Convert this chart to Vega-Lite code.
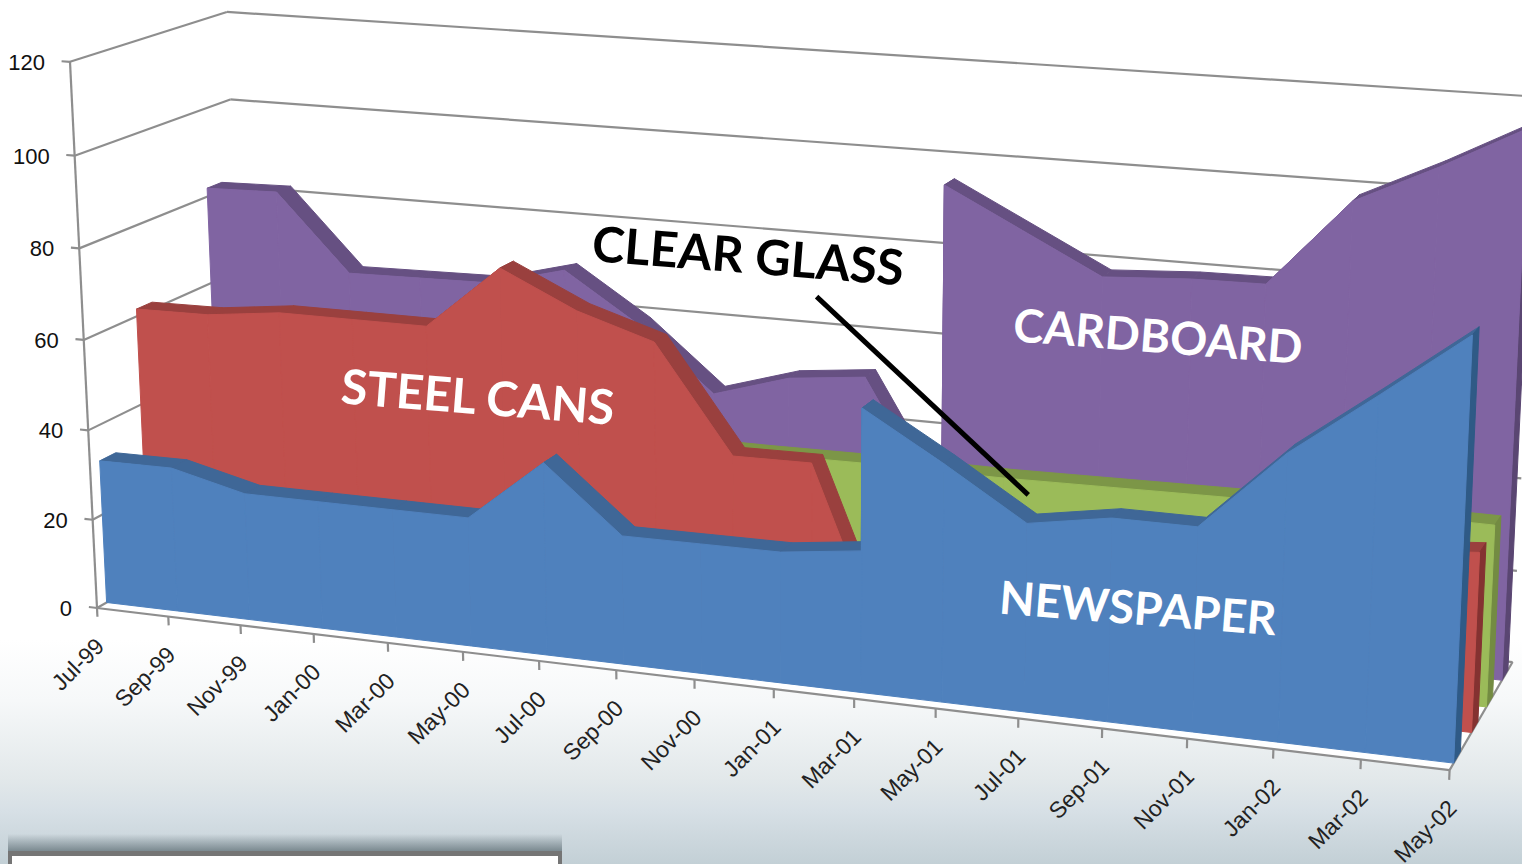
{
"$schema":"https://vega.github.io/schema/vega-lite/v6.json",
"width":1522,"height":864,"padding":0,
"autosize":{"type":"none"},
"background":"#ffffff",
"config":{"view":{"stroke":null}},
"datasets":{
"series":[
{"series":"Newspaper","month":"Jul-99","m":0,"value":32.1},{"series":"Newspaper","month":"Sep-99","m":2,"value":32.2},{"series":"Newspaper","month":"Nov-99","m":4,"value":28.2},{"series":"Newspaper","month":"Jan-00","m":6,"value":28.2},{"series":"Newspaper","month":"Mar-00","m":8,"value":28.2},{"series":"Newspaper","month":"May-00","m":10,"value":28.2},{"series":"Newspaper","month":"Jul-00","m":12,"value":41.9},{"series":"Newspaper","month":"Sep-00","m":14,"value":27.9},{"series":"Newspaper","month":"Nov-00","m":16,"value":28},{"series":"Newspaper","month":"Jan-01","m":18,"value":28.1},{"series":"Newspaper","month":"Mar-01","m":20,"value":30.2},{"series":"Newspaper","month":"Mar-01","m":20.01,"value":60.1},{"series":"Newspaper","month":"May-01","m":22,"value":50.2},{"series":"Newspaper","month":"Jul-01","m":24,"value":39.6},{"series":"Newspaper","month":"Sep-01","m":26,"value":42.5},{"series":"Newspaper","month":"Nov-01","m":28,"value":42.5},{"series":"Newspaper","month":"Jan-02","m":30,"value":59.2},{"series":"Newspaper","month":"Mar-02","m":32,"value":72.3},{"series":"Newspaper","month":"May-02","m":34,"value":85.7},
{"series":"Steel Cans","month":"Jul-99","m":0,"value":61.6},{"series":"Steel Cans","month":"Sep-99","m":2,"value":61.8},{"series":"Steel Cans","month":"Nov-99","m":4,"value":63.7},{"series":"Steel Cans","month":"Jan-00","m":6,"value":63.7},{"series":"Steel Cans","month":"Mar-00","m":8,"value":63.7},{"series":"Steel Cans","month":"May-00","m":10,"value":77.8},{"series":"Steel Cans","month":"Jul-00","m":12,"value":70},{"series":"Steel Cans","month":"Sep-00","m":14,"value":64.8},{"series":"Steel Cans","month":"Nov-00","m":16,"value":41.8},{"series":"Steel Cans","month":"Jan-01","m":18,"value":42},{"series":"Steel Cans","month":"Mar-01","m":20,"value":0},{"series":"Steel Cans","month":"Mar-01","m":20.01,"value":30},{"series":"Steel Cans","month":"May-01","m":22,"value":32},{"series":"Steel Cans","month":"Jul-01","m":24,"value":32},{"series":"Steel Cans","month":"Sep-01","m":26,"value":34},{"series":"Steel Cans","month":"Nov-01","m":28,"value":34},{"series":"Steel Cans","month":"Jan-02","m":30,"value":35},{"series":"Steel Cans","month":"Mar-02","m":32,"value":36},{"series":"Steel Cans","month":"May-02","m":34,"value":37.4},
{"series":"Clear Glass","month":"Jul-99","m":0,"value":38},{"series":"Clear Glass","month":"Nov-99","m":4,"value":38},{"series":"Clear Glass","month":"Mar-00","m":8,"value":38},{"series":"Clear Glass","month":"Jul-00","m":12,"value":38},{"series":"Clear Glass","month":"Nov-00","m":16,"value":38},{"series":"Clear Glass","month":"Feb-01","m":18.6,"value":38.2},{"series":"Clear Glass","month":"May-01","m":22.2,"value":38},{"series":"Clear Glass","month":"Nov-01","m":28.1,"value":38.7},{"series":"Clear Glass","month":"May-02","m":34,"value":38.4},
{"series":"Cardboard","month":"Jul-99","m":0,"value":81.9},{"series":"Cardboard","month":"Sep-99","m":2,"value":82.3},{"series":"Cardboard","month":"Nov-99","m":4,"value":65.1},{"series":"Cardboard","month":"Jan-00","m":6,"value":65.4},{"series":"Cardboard","month":"Mar-00","m":8,"value":65.7},{"series":"Cardboard","month":"May-00","m":10,"value":70},{"series":"Cardboard","month":"Jul-00","m":12,"value":59.2},{"series":"Cardboard","month":"Sep-00","m":14,"value":45.2},{"series":"Cardboard","month":"Nov-00","m":16,"value":50.3},{"series":"Cardboard","month":"Jan-01","m":18,"value":52.1},{"series":"Cardboard","month":"Mar-01","m":20,"value":24},{"series":"Cardboard","month":"Mar-01","m":20.01,"value":95.4},{"series":"Cardboard","month":"Jul-01","m":24,"value":78.4},{"series":"Cardboard","month":"Sep-01","m":26.2,"value":79.5},{"series":"Cardboard","month":"Nov-01","m":28,"value":79.7},{"series":"Cardboard","month":"Jan-02","m":30,"value":98.4},{"series":"Cardboard","month":"Mar-02","m":32,"value":106.7},{"series":"Cardboard","month":"May-02","m":34,"value":115.8}
],
"guides":[
{"kind":"grid","m":0,"v":0,"d":1,"m2":34,"v2":0,"d2":1},
{"kind":"grid","m":0,"v":20,"d":0,"m2":0,"v2":20,"d2":1},{"kind":"grid","m":0,"v":40,"d":0,"m2":0,"v2":40,"d2":1},{"kind":"grid","m":0,"v":60,"d":0,"m2":0,"v2":60,"d2":1},{"kind":"grid","m":0,"v":80,"d":0,"m2":0,"v2":80,"d2":1},{"kind":"grid","m":0,"v":100,"d":0,"m2":0,"v2":100,"d2":1},{"kind":"grid","m":0,"v":120,"d":0,"m2":0,"v2":120,"d2":1},
{"kind":"grid","m":0,"v":20,"d":1,"m2":34,"v2":20,"d2":1},{"kind":"grid","m":0,"v":40,"d":1,"m2":34,"v2":40,"d2":1},{"kind":"grid","m":0,"v":60,"d":1,"m2":34,"v2":60,"d2":1},{"kind":"grid","m":0,"v":80,"d":1,"m2":34,"v2":80,"d2":1},{"kind":"grid","m":0,"v":100,"d":1,"m2":34,"v2":100,"d2":1},{"kind":"grid","m":0,"v":120,"d":1,"m2":34,"v2":120,"d2":1},
{"kind":"grid","m":0,"v":0,"d":0,"m2":0,"v2":120,"d2":0},{"kind":"grid","m":0,"v":0,"d":0,"m2":34,"v2":0,"d2":0},{"kind":"grid","m":34,"v":0,"d":0,"m2":34,"v2":0,"d2":1},{"kind":"grid","m":0,"v":0,"d":0,"m2":0,"v2":0,"d2":1},
{"kind":"vtick","label":"0","m":0,"v":0,"d":0,"m2":-0.23,"v2":0,"d2":0},{"kind":"vtick","label":"20","m":0,"v":20,"d":0,"m2":-0.23,"v2":20,"d2":0},{"kind":"vtick","label":"40","m":0,"v":40,"d":0,"m2":-0.23,"v2":40,"d2":0},{"kind":"vtick","label":"60","m":0,"v":60,"d":0,"m2":-0.23,"v2":60,"d2":0},{"kind":"vtick","label":"80","m":0,"v":80,"d":0,"m2":-0.23,"v2":80,"d2":0},{"kind":"vtick","label":"100","m":0,"v":100,"d":0,"m2":-0.23,"v2":100,"d2":0},{"kind":"vtick","label":"120","m":0,"v":120,"d":0,"m2":-0.23,"v2":120,"d2":0},
{"kind":"mtick","label":"Jul-99","m":0,"v":0,"d":0,"m2":0,"v2":-2,"d2":0},{"kind":"mtick","label":"Sep-99","m":2,"v":0,"d":0,"m2":2,"v2":-2,"d2":0},{"kind":"mtick","label":"Nov-99","m":4,"v":0,"d":0,"m2":4,"v2":-2,"d2":0},{"kind":"mtick","label":"Jan-00","m":6,"v":0,"d":0,"m2":6,"v2":-2,"d2":0},{"kind":"mtick","label":"Mar-00","m":8,"v":0,"d":0,"m2":8,"v2":-2,"d2":0},{"kind":"mtick","label":"May-00","m":10,"v":0,"d":0,"m2":10,"v2":-2,"d2":0},{"kind":"mtick","label":"Jul-00","m":12,"v":0,"d":0,"m2":12,"v2":-2,"d2":0},{"kind":"mtick","label":"Sep-00","m":14,"v":0,"d":0,"m2":14,"v2":-2,"d2":0},{"kind":"mtick","label":"Nov-00","m":16,"v":0,"d":0,"m2":16,"v2":-2,"d2":0},{"kind":"mtick","label":"Jan-01","m":18,"v":0,"d":0,"m2":18,"v2":-2,"d2":0},{"kind":"mtick","label":"Mar-01","m":20,"v":0,"d":0,"m2":20,"v2":-2,"d2":0},{"kind":"mtick","label":"May-01","m":22,"v":0,"d":0,"m2":22,"v2":-2,"d2":0},{"kind":"mtick","label":"Jul-01","m":24,"v":0,"d":0,"m2":24,"v2":-2,"d2":0},{"kind":"mtick","label":"Sep-01","m":26,"v":0,"d":0,"m2":26,"v2":-2,"d2":0},{"kind":"mtick","label":"Nov-01","m":28,"v":0,"d":0,"m2":28,"v2":-2,"d2":0},{"kind":"mtick","label":"Jan-02","m":30,"v":0,"d":0,"m2":30,"v2":-2,"d2":0},{"kind":"mtick","label":"Mar-02","m":32,"v":0,"d":0,"m2":32,"v2":-2,"d2":0},{"kind":"mtick","label":"May-02","m":34,"v":0,"d":0,"m2":34,"v2":-2,"d2":0}
],
"notes":[
{"kind":"leader","m":17.46,"v":73.4,"d":0.565,"m2":22.83,"v2":34.9,"d2":0.565},
{"kind":"dark","label":"CLEAR GLASS","m":15.7,"v":80.4,"d":0.565,"m2":15.7,"v2":80.4,"d2":0.565},
{"kind":"steel","label":"STEEL CANS","m":9.33,"v":48.5,"d":0.33,"m2":9.33,"v2":48.5,"d2":0.33},
{"kind":"light","label":"CARDBOARD","m":25.4,"v":66.2,"d":0.82,"m2":25.4,"v2":66.2,"d2":0.82},
{"kind":"light","label":"NEWSPAPER","m":26.65,"v":24,"d":0.06,"m2":26.65,"v2":24,"d2":0.06}
],
"floor":[{"c":0,"m":0,"d":0},{"c":1,"m":34,"d":0},{"c":2,"m":34,"d":1},{"c":3,"m":0,"d":1}]
},
"layer":[
{"data":{"values":[{"panel":"backdrop"}]},"mark":{"type":"rect","fill":{"gradient":"linear","x1":0,"y1":0,"x2":0,"y2":1,"stops":[{"offset":0,"color":"#ffffff"},{"offset":0.27,"color":"#f6f8f9"},{"offset":0.625,"color":"#e2e8ea"},{"offset":0.76,"color":"#d7e0e6"},{"offset":0.89,"color":"#ccd7dd"},{"offset":1,"color":"#c3d0d6"}]}},"encoding":{"x":{"value":0},"x2":{"value":1522},"y":{"value":640},"y2":{"value":864}}},
{"data":{"name":"floor"},
 "transform":[{"calculate":"1-0.00323*datum.m+0.074*datum.d","as":"w"},{"calculate":"(97+35.1*datum.m+168*datum.d)/datum.w","as":"px"},{"calculate":"(608+2.28*datum.m-47.2*datum.d)/datum.w","as":"py"}],
 "mark":{"type":"line","interpolate":"linear-closed","fill":"#ffffff","stroke":null},
 "encoding":{"x":{"field":"px","type":"quantitative","scale":{"domain":[0,1522],"nice":false,"zero":false},"axis":null},"y":{"field":"py","type":"quantitative","scale":{"domain":[864,0],"nice":false,"zero":false},"axis":null},"order":{"field":"c"}}},
{"data":{"name":"guides"},
 "transform":[
  {"calculate":"1-0.00323*datum.m-0.0003*datum.v+0.074*datum.d","as":"w"},
  {"calculate":"(97+35.1*datum.m-0.246*datum.v+168*datum.d)/datum.w","as":"px"},
  {"calculate":"(608+2.28*datum.m-4.57*datum.v-47.2*datum.d)/datum.w","as":"py"},
  {"calculate":"1-0.00323*datum.m2-0.0003*datum.v2+0.074*datum.d2","as":"w2"},
  {"calculate":"(97+35.1*datum.m2-0.246*datum.v2+168*datum.d2)/datum.w2","as":"px2"},
  {"calculate":"(608+2.28*datum.m2-4.57*datum.v2-47.2*datum.d2)/datum.w2","as":"py2"}
 ],
 "encoding":{"x":{"field":"px","type":"quantitative","scale":{"domain":[0,1522],"nice":false,"zero":false},"axis":null},"y":{"field":"py","type":"quantitative","scale":{"domain":[864,0],"nice":false,"zero":false},"axis":null}},
 "layer":[
  {"mark":{"type":"rule","color":"#8e8e8e","strokeWidth":2.2,"clip":true},"encoding":{"x2":{"field":"px2"},"y2":{"field":"py2"}}},
  {"transform":[{"filter":"datum.kind==='vtick'"}],"mark":{"type":"text","align":"right","baseline":"middle","dx":-25,"dy":1,"font":"Liberation Sans","fontSize":22,"fill":"#111111"},"encoding":{"text":{"field":"label"}}},
  {"transform":[{"filter":"datum.kind==='mtick'"}],"mark":{"type":"text","align":"right","baseline":"middle","angle":315,"dx":-22,"dy":27,"font":"Liberation Sans","fontSize":23,"fill":"#222222"},"encoding":{"text":{"field":"label"}}}
 ]},
{"data":{"name":"series"},
 "transform":[
  {"window":[{"op":"lead","field":"value","as":"nv"},{"op":"lead","field":"m","as":"nm"}],"groupby":["series"],"sort":[{"field":"m","order":"ascending"}]},
  {"calculate":"[0,1,2,3]","as":"corners"},{"flatten":["corners"],"as":["c"]},
  {"calculate":"isValid(datum.nm)?['face','band']:['side']","as":"kinds"},{"flatten":["kinds"],"as":["kind"]},
  {"calculate":"datum.series==='Newspaper'?0.06:datum.series==='Steel Cans'?0.33:datum.series==='Clear Glass'?0.565:0.82","as":"d0"},
  {"calculate":"datum.kind==='side'?datum.m:((datum.c===0||datum.c===3)?datum.m:datum.nm)","as":"qm"},
  {"calculate":"datum.kind==='face'?(datum.c===0?datum.value:datum.c===1?datum.nv:0):datum.kind==='band'?((datum.c===0||datum.c===3)?datum.value:datum.nv):(datum.c<2?datum.value:0)","as":"qv"},
  {"calculate":"datum.kind==='face'?datum.d0:datum.kind==='band'?(datum.c<2?datum.d0:datum.d0+0.1):((datum.c===0||datum.c===3)?datum.d0:datum.d0+0.1)","as":"qd"},
  {"calculate":"1-0.00323*datum.qm-0.0003*datum.qv+0.074*datum.qd","as":"w"},
  {"calculate":"(97+35.1*datum.qm-0.246*datum.qv+168*datum.qd)/datum.w","as":"px"},
  {"calculate":"(608+2.28*datum.qm-4.57*datum.qv-47.2*datum.qd)/datum.w","as":"py"}
 ],
 "encoding":{"x":{"field":"px","type":"quantitative","scale":{"domain":[0,1522],"nice":false,"zero":false},"axis":null},"y":{"field":"py","type":"quantitative","scale":{"domain":[864,0],"nice":false,"zero":false},"axis":null},"detail":{"field":"m","type":"nominal"},"order":{"field":"c"}},
 "layer":[
  {"transform":[{"filter":"datum.series==='Cardboard'&&datum.kind==='band'"}],"mark":{"type":"line","interpolate":"linear-closed","fill":"#665082","stroke":"#665082","strokeWidth":1,"clip":true}},
  {"transform":[{"filter":"datum.series==='Cardboard'&&datum.kind==='side'"}],"mark":{"type":"line","interpolate":"linear-closed","fill":"#5a4672","stroke":"#5a4672","strokeWidth":1,"clip":true}},
  {"transform":[{"filter":"datum.series==='Cardboard'&&datum.kind==='face'"}],"mark":{"type":"line","interpolate":"linear-closed","fill":"#8064a2","stroke":"#8064a2","strokeWidth":1,"clip":true}},
  {"transform":[{"filter":"datum.series==='Clear Glass'&&datum.kind==='band'"}],"mark":{"type":"line","interpolate":"linear-closed","fill":"#7c9647","stroke":"#7c9647","strokeWidth":1,"clip":true}},
  {"transform":[{"filter":"datum.series==='Clear Glass'&&datum.kind==='side'"}],"mark":{"type":"line","interpolate":"linear-closed","fill":"#738b42","stroke":"#738b42","strokeWidth":1,"clip":true}},
  {"transform":[{"filter":"datum.series==='Clear Glass'&&datum.kind==='face'"}],"mark":{"type":"line","interpolate":"linear-closed","fill":"#9bbb59","stroke":"#9bbb59","strokeWidth":1,"clip":true}},
  {"transform":[{"filter":"datum.series==='Steel Cans'&&datum.kind==='band'"}],"mark":{"type":"line","interpolate":"linear-closed","fill":"#9a403e","stroke":"#9a403e","strokeWidth":1,"clip":true}},
  {"transform":[{"filter":"datum.series==='Steel Cans'&&datum.kind==='side'"}],"mark":{"type":"line","interpolate":"linear-closed","fill":"#843231","stroke":"#843231","strokeWidth":1,"clip":true}},
  {"transform":[{"filter":"datum.series==='Steel Cans'&&datum.kind==='face'"}],"mark":{"type":"line","interpolate":"linear-closed","fill":"#c0504d","stroke":"#c0504d","strokeWidth":1,"clip":true}},
  {"transform":[{"filter":"datum.series==='Newspaper'&&datum.kind==='band'"}],"mark":{"type":"line","interpolate":"linear-closed","fill":"#3f6797","stroke":"#3f6797","strokeWidth":1,"clip":true}},
  {"transform":[{"filter":"datum.series==='Newspaper'&&datum.kind==='side'"}],"mark":{"type":"line","interpolate":"linear-closed","fill":"#2f5a86","stroke":"#2f5a86","strokeWidth":1,"clip":true}},
  {"transform":[{"filter":"datum.series==='Newspaper'&&datum.kind==='face'"}],"mark":{"type":"line","interpolate":"linear-closed","fill":"#4f81bd","stroke":"#4f81bd","strokeWidth":1,"clip":true}}
 ]},
{"data":{"name":"notes"},
 "transform":[
  {"calculate":"1-0.00323*datum.m-0.0003*datum.v+0.074*datum.d","as":"w"},
  {"calculate":"(97+35.1*datum.m-0.246*datum.v+168*datum.d)/datum.w","as":"px"},
  {"calculate":"(608+2.28*datum.m-4.57*datum.v-47.2*datum.d)/datum.w","as":"py"},
  {"calculate":"1-0.00323*datum.m2-0.0003*datum.v2+0.074*datum.d2","as":"w2"},
  {"calculate":"(97+35.1*datum.m2-0.246*datum.v2+168*datum.d2)/datum.w2","as":"px2"},
  {"calculate":"(608+2.28*datum.m2-4.57*datum.v2-47.2*datum.d2)/datum.w2","as":"py2"}
 ],
 "encoding":{"x":{"field":"px","type":"quantitative","scale":{"domain":[0,1522],"nice":false,"zero":false},"axis":null},"y":{"field":"py","type":"quantitative","scale":{"domain":[864,0],"nice":false,"zero":false},"axis":null}},
 "layer":[
  {"transform":[{"filter":"datum.kind==='leader'"}],"mark":{"type":"rule","color":"#000000","strokeWidth":5},"encoding":{"x2":{"field":"px2"},"y2":{"field":"py2"}}},
  {"transform":[{"filter":"datum.kind==='dark'"}],"mark":{"type":"text","align":"center","baseline":"middle","angle":4.5,"font":"Lato","fontWeight":"bold","fontSize":49,"fill":"#000000"},"encoding":{"text":{"field":"label"}}},
  {"transform":[{"filter":"datum.kind==='steel'"}],"mark":{"type":"text","align":"center","baseline":"middle","angle":4.5,"font":"Lato","fontWeight":"bold","fontSize":48,"fill":"#ffffff"},"encoding":{"text":{"field":"label"}}},
  {"transform":[{"filter":"datum.kind==='light'"}],"mark":{"type":"text","align":"center","baseline":"middle","angle":4.5,"font":"Lato","fontWeight":"bold","fontSize":46,"fill":"#ffffff"},"encoding":{"text":{"field":"label"}}}
 ]},
{"data":{"values":[{"panel":"legend shadow"}]},"mark":{"type":"rect","fill":{"gradient":"linear","x1":0,"y1":0,"x2":0,"y2":1,"stops":[{"offset":0,"color":"rgba(110,125,132,0)"},{"offset":1,"color":"rgba(110,125,132,0.85)"}]}},"encoding":{"x":{"value":8},"x2":{"value":562},"y":{"value":834},"y2":{"value":851}}},
{"data":{"values":[{"panel":"legend border"}]},"mark":{"type":"rect","fill":"#757575"},"encoding":{"x":{"value":8},"x2":{"value":562},"y":{"value":851},"y2":{"value":864}}},
{"data":{"values":[{"panel":"legend"}]},"mark":{"type":"rect","fill":"#ffffff"},"encoding":{"x":{"value":12},"x2":{"value":558},"y":{"value":856},"y2":{"value":864}}}
]
}
